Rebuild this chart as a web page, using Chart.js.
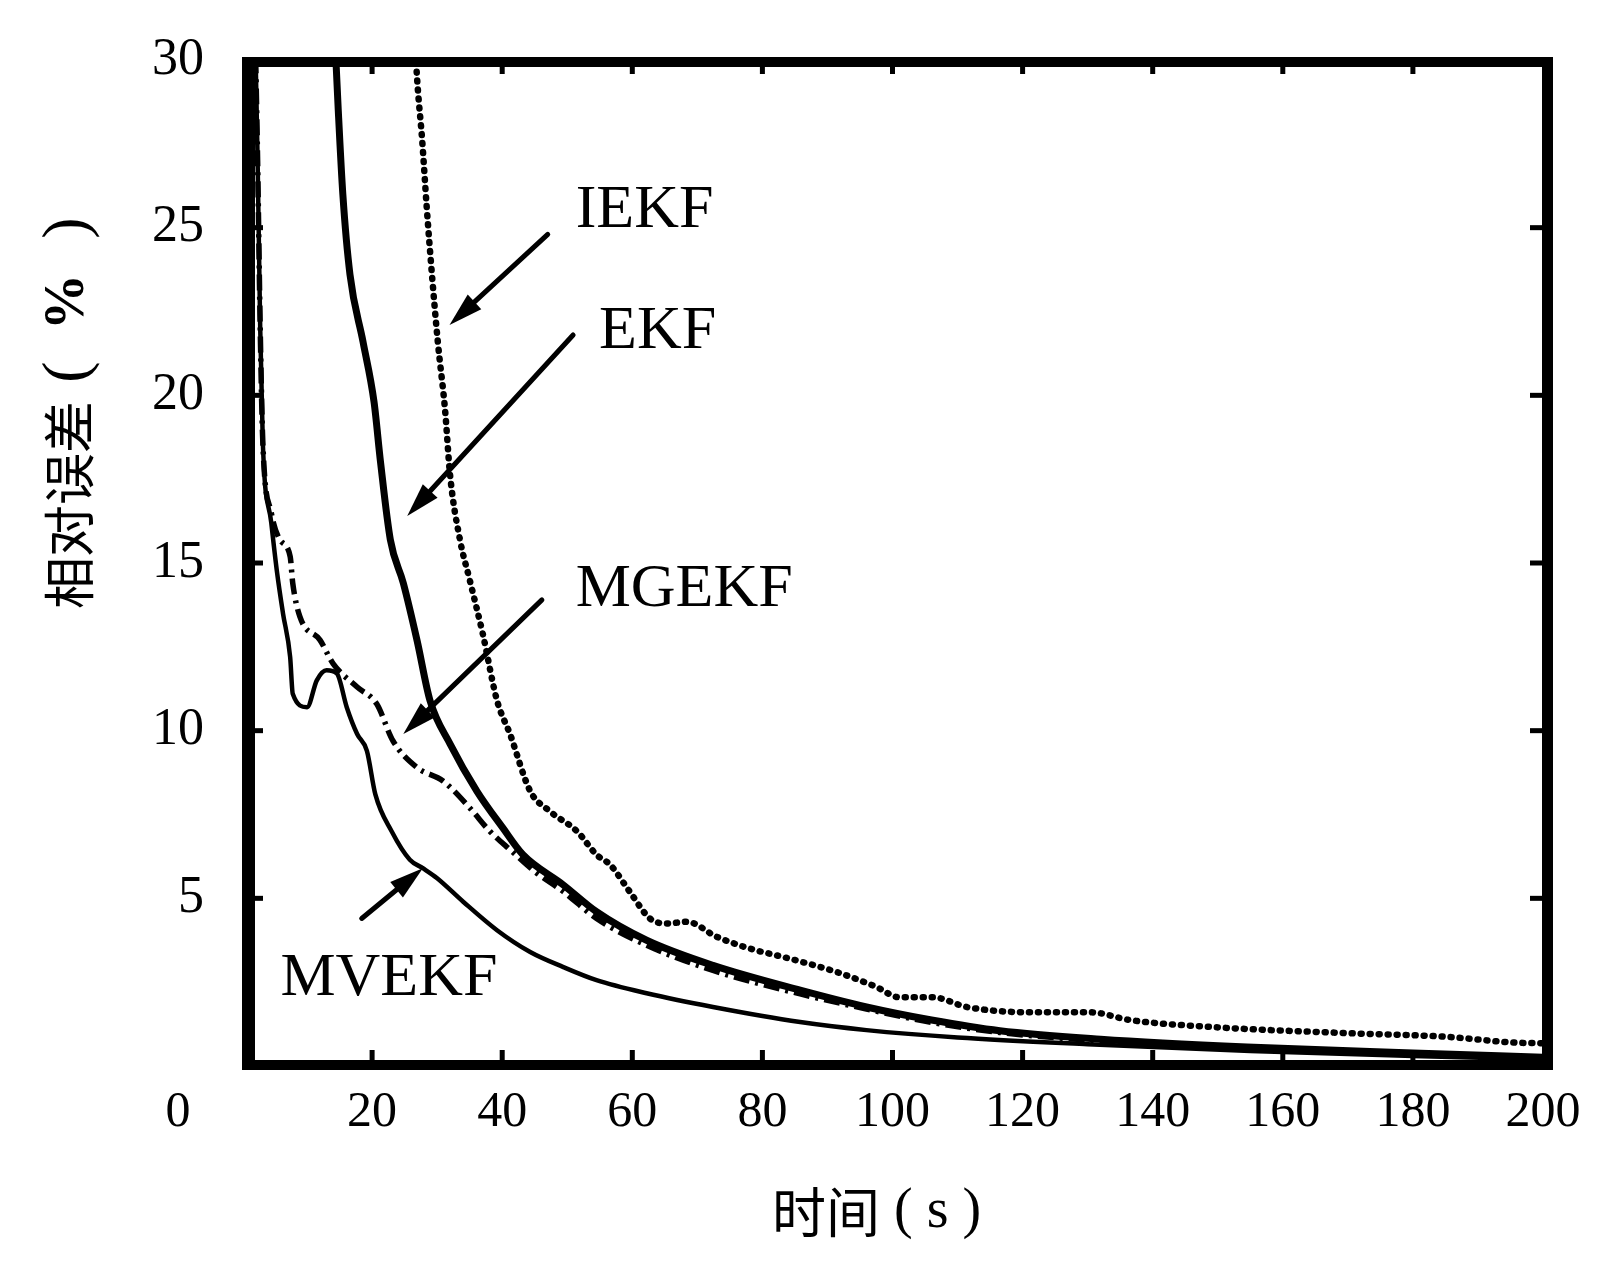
<!DOCTYPE html>
<html><head><meta charset="utf-8">
<script src="https://cdn.jsdelivr.net/npm/chart.js@4/dist/chart.umd.min.js"></script>
<style>html,body{margin:0;padding:0;background:#fff}#wrap{width:1598px;height:1269px;position:relative}</style>
</head><body><div id="wrap"><canvas id="c"></canvas></div>
<script>
// ---- data (time in s, relative error in %) ----
const xTickValues = [0,20,40,60,80,100,120,140,160,180,200];
const yTickValues = [0,5,10,15,20,25,30];

const seriesNames = ['IEKF','EKF','MGEKF','MVEKF'];

const timeIEKF = [26.5,26.9,27.7,28.4,29.2,30.1,31.2,32,33.5,35,37,39.2,41.2,44.3,47.3,51.5,54.5,56.6,59.6,62.7,65.3,68.4,73,78.1,83.2,86.9,91.9,97.6,101,106.2,111.4,121.6,130.5,136.5,149.3,169.9,185.2,195.4,200];
const errIEKF  = [31,29.5,27.6,25.6,23.6,21.6,19.6,17.6,15.7,14.5,12.9,10.9,9.9,8.2,7.6,7.0,6.3,6.0,5.2,4.4,4.25,4.3,3.85,3.5,3.25,3.06,2.77,2.35,2.05,2.05,1.76,1.6,1.6,1.37,1.16,0.98,0.87,0.7,0.68];

const timeEKF = [14.2,14.8,15.5,16.6,18.6,20.3,21.3,22.8,24.8,26.9,28.9,32.0,36.1,40.1,43.2,49.4,54.5,62.2,72.4,85.8,96,106,116.5,132,154.5,180,200];
const errEKF  = [31,28.5,26.0,23.6,21.6,19.8,18.0,15.7,14.4,12.7,10.9,9.6,8.2,7.1,6.3,5.4,4.6,3.75,3.0,2.26,1.76,1.37,1.05,0.8,0.57,0.39,0.26];

const timeMGEKF = [2.0,2.4,2.8,3.2,4.5,5.8,7.4,7.8,8.9,12.0,14.0,17.7,20.7,23.2,26.9,30.9,35,38.1,41.5,45,49.4,54.5,62.2,72.4,85.8,96,106,116.5,132,154.5,180,200];
const errMGEKF  = [31,27,22,18.6,16.5,15.7,15.2,14.4,13.4,12.7,12.0,11.3,10.8,9.7,8.9,8.5,7.7,7.0,6.4,5.8,5.2,4.4,3.6,2.85,2.15,1.7,1.3,1.0,0.75,0.52,0.36,0.24];

const timeMVEKF = [2.0,2.4,2.8,3.2,4.5,5.4,6.3,7.4,7.8,10,11.5,13,14.6,16.1,17.7,19.2,20.5,23,25.8,27.8,30,34,39.2,44.3,49.4,54.5,62.2,72.4,85.8,96,110,130,155,180,200];
const errMVEKF  = [31,27,22,18.6,16.2,14.7,13.5,12.2,11.1,10.7,11.5,11.8,11.7,10.7,9.9,9.4,8.1,7.0,6.15,5.9,5.6,4.9,4.05,3.4,2.95,2.56,2.17,1.76,1.31,1.07,0.85,0.65,0.45,0.3,0.2];

function pts(xs, ys){ return xs.map((x,i)=>({x:x, y:ys[i]})); }

const SERIF = "'Liberation Serif','Times New Roman',serif";
const CJK = "'Noto Sans CJK SC','Noto Sans CJK JP',sans-serif";

const framePlugin = {
  id: 'frame',
  afterDatasetsDraw(chart){
    const ctx = chart.ctx;
    const a = chart.chartArea;
    const xs = chart.scales.x, ys = chart.scales.y;
    const L=a.left, R=a.right, T=a.top, B=a.bottom;
    ctx.save();
    ctx.fillStyle = '#000';
    // thick frame
    ctx.fillRect(L, T-3, 13, B-T+7);
    ctx.fillRect(L, T-3, R+10-L, 10);
    ctx.fillRect(L, B-6, R+10-L, 10);
    ctx.fillRect(R-1, T-3, 11, B-T+7);
    // inward ticks
    xTickValues.forEach(v=>{
      if (v===0 || v===200) return;
      const p = xs.getPixelForValue(v);
      ctx.fillRect(p-2.5, B-16, 5, 10);
      ctx.fillRect(p-2.5, T+7, 5, 7);
    });
    yTickValues.forEach(v=>{
      if (v===0 || v===30) return;
      const p = ys.getPixelForValue(v);
      ctx.fillRect(L+13, p-2.5, 8, 5);
      ctx.fillRect(R-13, p-2.5, 12, 5);
    });
    // origin label "0"
    ctx.font = '50px ' + SERIF;
    ctx.textAlign = 'center';
    ctx.textBaseline = 'middle';
    ctx.fillText('0', xs.getPixelForValue(0) - 64, B + 47);
    // x title
    ctx.font = '54px ' + CJK;
    ctx.textAlign = 'right';
    ctx.fillText('时间', 880, B + 146);
    ctx.font = '56px ' + SERIF;
    ctx.textAlign = 'left';
    ctx.fillText(' ( s )', 880, B + 146);
    // y title (rotated)
    ctx.translate(69, 0);
    ctx.rotate(-Math.PI/2);
    ctx.font = '52px ' + CJK;
    ctx.textAlign = 'center';
    ctx.fillText('相对误差', -505, 0);
    ctx.font = '64px ' + SERIF;
    ctx.fillText('(', -372, 0);
    ctx.fillText(')', -228, 0);
    ctx.font = 'bold 56px ' + SERIF;
    ctx.fillText('%', -302, 0);
    ctx.restore();
  }
};

const annotations = [
  {text:'IEKF',  tx:51.3, ty:25.5, fx:47.0, fy:24.8, ax:31.9, ay:22.1},
  {text:'EKF',   tx:54.9, ty:21.9, fx:50.9, fy:21.8, ax:25.4, ay:16.4},
  {text:'MGEKF', tx:51.3, ty:14.2, fx:46.1, fy:13.9, ax:24.8, ay:9.9},
  {text:'MVEKF', tx:5.9,  ty:2.6,  fx:18.4, fy:4.4,  ax:27.8, ay:5.9}
];

const annoPlugin = {
  id: 'anno',
  afterDatasetsDraw(chart){
    const ctx = chart.ctx;
    const xs = chart.scales.x, ys = chart.scales.y;
    ctx.save();
    ctx.fillStyle = '#000';
    ctx.strokeStyle = '#000';
    ctx.font = '62px ' + SERIF;
    ctx.textAlign = 'left';
    ctx.textBaseline = 'middle';
    annotations.forEach(an=>{
      ctx.fillText(an.text, xs.getPixelForValue(an.tx), ys.getPixelForValue(an.ty));
      const x1 = xs.getPixelForValue(an.fx), y1 = ys.getPixelForValue(an.fy);
      const x2 = xs.getPixelForValue(an.ax), y2 = ys.getPixelForValue(an.ay);
      const ang = Math.atan2(y2-y1, x2-x1);
      const hl = 34, hw = 10;
      const bx = x2 - hl*Math.cos(ang), by = y2 - hl*Math.sin(ang);
      ctx.lineWidth = 5;
      ctx.lineCap = 'round';
      ctx.beginPath(); ctx.moveTo(x1,y1); ctx.lineTo(bx,by); ctx.stroke();
      ctx.beginPath();
      ctx.moveTo(x2,y2);
      ctx.lineTo(bx + hw*Math.sin(ang), by - hw*Math.cos(ang));
      ctx.lineTo(bx - hw*Math.sin(ang), by + hw*Math.cos(ang));
      ctx.closePath(); ctx.fill();
    });
    ctx.restore();
  }
};

new Chart(document.getElementById('c'), {
  type: 'line',
  data: {
    datasets: [
      {label: seriesNames[0], data: pts(timeIEKF, errIEKF), borderColor:'#000', borderWidth:6.5, borderDash:[1,8], borderCapStyle:'round', pointRadius:0, cubicInterpolationMode:'monotone'},
      {label: seriesNames[1], data: pts(timeEKF, errEKF), borderColor:'#000', borderWidth:7, pointRadius:0, cubicInterpolationMode:'monotone'},
      {label: seriesNames[2], data: pts(timeMGEKF, errMGEKF), borderColor:'#000', borderWidth:5.5, borderDash:[16,6,3,6], pointRadius:0, cubicInterpolationMode:'monotone'},
      {label: seriesNames[3], data: pts(timeMVEKF, errMVEKF), borderColor:'#000', borderWidth:4.5, pointRadius:0, cubicInterpolationMode:'monotone'}
    ]
  },
  options: {
    responsive: true,
    maintainAspectRatio: false,
    animation: false,
    layout: {padding: {top:60, right:55, left:0, bottom:0}},
    plugins: {legend:{display:false}, tooltip:{enabled:false}},
    scales: {
      x: {
        type:'linear', min:0, max:200,
        afterBuildTicks: s => { s.ticks = xTickValues.map(v=>({value:v})); },
        afterFit: s => { s.height = 203; s.paddingLeft = 0; s.paddingRight = 0; s.paddingTop = 0; s.paddingBottom = 0; },
        grid: {display:false, drawTicks:false},
        border: {display:false},
        ticks: {color:'#000', font:{family:SERIF, size:50}, padding:17, maxRotation:0, autoSkip:false,
                callback: v => v===0 ? '' : String(v)}
      },
      y: {
        type:'linear', min:0, max:30,
        afterBuildTicks: s => { s.ticks = yTickValues.map(v=>({value:v})); },
        afterFit: s => { s.width = 242; s.paddingTop = 0; s.paddingBottom = 0; s.paddingLeft = 0; s.paddingRight = 0; },
        grid: {display:false, drawTicks:false},
        border: {display:false},
        ticks: {color:'#000', font:{family:SERIF, size:52}, padding:38, autoSkip:false,
                callback: v => v===0 ? '' : String(v)}
      }
    }
  },
  plugins: [framePlugin, annoPlugin]
});
</script>
</body></html>
